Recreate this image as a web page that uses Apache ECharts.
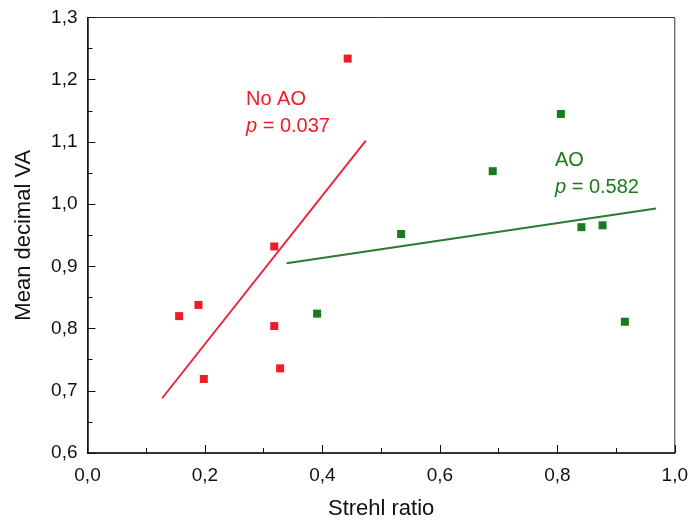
<!DOCTYPE html>
<html>
<head>
<meta charset="utf-8">
<script src="https://cdn.jsdelivr.net/npm/echarts@6/dist/echarts.min.js"></script>
<style>
  html, body { margin: 0; padding: 0; background: #fff; }
  #chart { width: 691px; height: 525px; }
</style>
</head>
<body>
<div id="chart"></div>
<script>
// points: [Strehl ratio, mean decimal VA]
const noAoPoints = [
  [0.156, 0.820], [0.189, 0.838], [0.198, 0.719], [0.318, 0.932],
  [0.318, 0.804], [0.328, 0.736], [0.443, 1.234]
]
const aoPoints = [
  [0.391, 0.824], [0.534, 0.952], [0.690, 1.053], [0.806, 1.145],
  [0.841, 0.963], [0.877, 0.966], [0.915, 0.811]
]
// regression line ends
const noAoFit = [[0.127, 0.688], [0.474, 1.102]]
const aoFit = [[0.339, 0.905], [0.968, 0.993]]

const noAoLabel = ['No AO', '0.037']
const aoLabel = ['AO', '0.582']

const red = '#ee1c24'
const green = '#1b7a1e'
const font = 'Liberation Sans, Arial, Helvetica, sans-serif'

const chart = echarts.init(document.getElementById('chart'))

const comma = v => v.toFixed(1).replace('.', ',')

const noteText = (lines, color, left, top) => ({
  type: 'text',
  left: left,
  top: top,
  style: {
    text: lines[0] + '\n{i|p} = ' + lines[1],
    fill: color,
    font: '20px ' + font,
    lineHeight: 27,
    rich: {
      i: { fontStyle: 'italic', fontSize: 20, fontFamily: font, fill: color, lineHeight: 27 }
    }
  }
})

chart.setOption({
  animation: false,
  grid: {
    left: 87.5,
    right: 16,
    top: 17.5,
    bottom: 70,
    show: true,
    borderColor: '#333',
    borderWidth: 1
  },
  xAxis: {
    type: 'value',
    min: 0,
    max: 1,
    interval: 0.2,
    name: 'Strehl ratio',
    nameLocation: 'middle',
    nameGap: 45,
    nameTextStyle: { fontSize: 22, fontFamily: font, color: '#111' },
    axisLine: { lineStyle: { color: '#111', width: 1.5 } },
    axisTick: { inside: true, length: 8, lineStyle: { color: '#111' } },
    minorTick: { show: true, splitNumber: 2, length: 5, lineStyle: { color: '#111' } },
    splitLine: { show: false },
    axisLabel: {
      formatter: comma,
      fontSize: 19,
      fontFamily: font,
      color: '#111',
      margin: 13
    }
  },
  yAxis: {
    type: 'value',
    min: 0.6,
    max: 1.3,
    interval: 0.1,
    name: 'Mean decimal VA',
    nameLocation: 'middle',
    nameGap: 53,
    nameTextStyle: { fontSize: 22, fontFamily: font, color: '#111' },
    axisLine: { show: true, lineStyle: { color: '#111', width: 1.5 } },
    axisTick: { show: true, inside: true, length: 8, lineStyle: { color: '#111' } },
    minorTick: { show: true, splitNumber: 2, length: 5, lineStyle: { color: '#111' } },
    splitLine: { show: false },
    axisLabel: {
      formatter: comma,
      fontSize: 19,
      fontFamily: font,
      color: '#111',
      margin: 10
    }
  },
  series: [
    {
      name: 'No AO fit',
      type: 'line',
      data: noAoFit,
      symbol: 'none',
      lineStyle: { color: '#e8283c', width: 2 },
      z: 1
    },
    {
      name: 'AO fit',
      type: 'line',
      data: aoFit,
      symbol: 'none',
      lineStyle: { color: '#2a7a30', width: 2 },
      z: 1
    },
    {
      name: 'No AO',
      type: 'scatter',
      data: noAoPoints,
      symbol: 'rect',
      symbolSize: 8,
      itemStyle: { color: red, opacity: 1 },
      z: 2
    },
    {
      name: 'AO',
      type: 'scatter',
      data: aoPoints,
      symbol: 'rect',
      symbolSize: 8,
      itemStyle: { color: green, opacity: 1 },
      z: 2
    }
  ],
  graphic: [
    noteText(noAoLabel, red, 246, 86),
    noteText(aoLabel, green, 555, 147)
  ]
})
</script>
</body>
</html>
